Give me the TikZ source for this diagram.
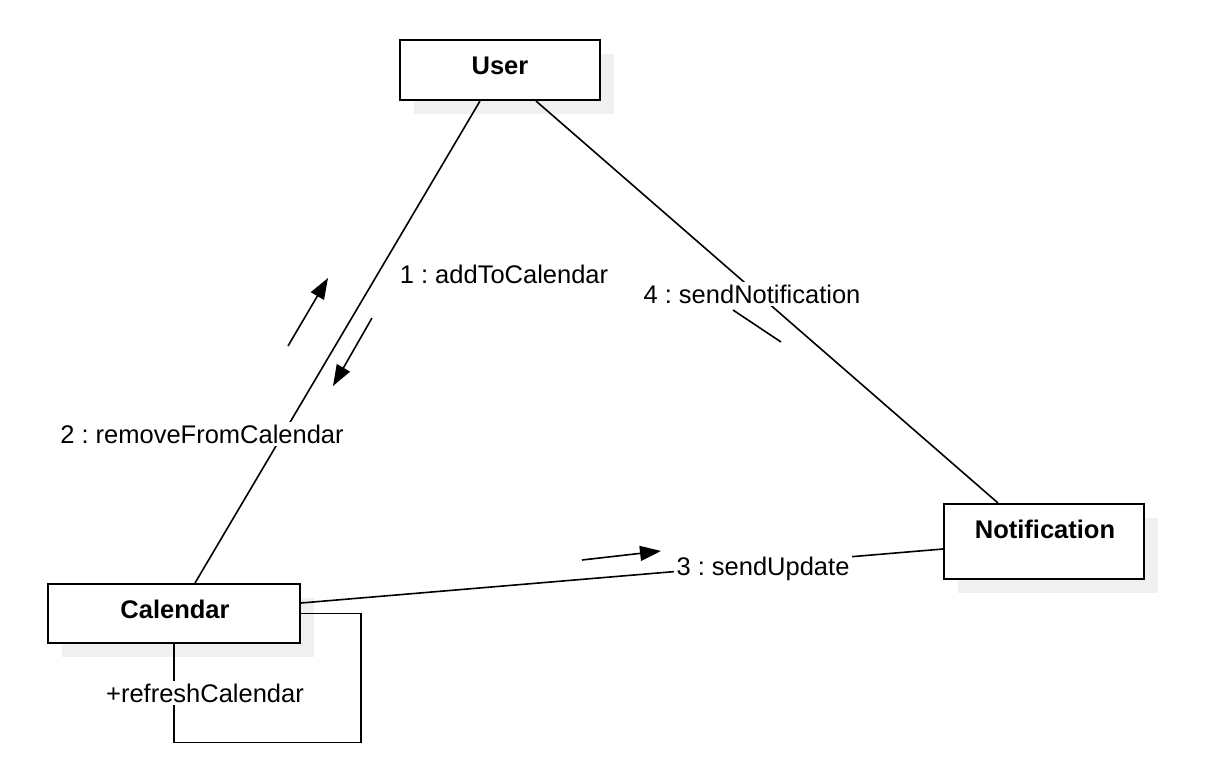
\documentclass[tikz,border=0pt]{standalone}
\usepackage{fontspec}
\setmainfont{Liberation Sans}
\usetikzlibrary{arrows.meta}
\definecolor{shadowgray}{HTML}{F0F0F0}
\frenchspacing
\begin{document}
\begin{tikzpicture}[x=1pt,y=-1pt,
  font=\fontsize{25.5}{30}\selectfont,
  objbox/.style={draw=black, line width=2pt, fill=white, inner sep=0pt},
  shadowbox/.style={fill=shadowgray, draw=none, inner sep=0pt},
  objname/.style={font=\fontsize{25.5}{30}\selectfont\bfseries, inner sep=0pt},
  conn/.style={line width=1.6pt},
  msg/.style={line width=1.6pt, -{Triangle[length=21pt,width=15pt]}},
  msglabel/.style={fill=white, inner sep=3pt}]
\useasboundingbox (0,0) rectangle (1226,776);
% shadows
\node[shadowbox, minimum width=200pt, minimum height=60pt] (usersh) at (514,84) {};
\node[shadowbox, minimum width=252pt, minimum height=59pt] (calsh) at (188,627.5) {};
\node[shadowbox, minimum width=200pt, minimum height=75pt] (notifsh) at (1058,555.5) {};
% objects
\node[objbox, minimum width=200pt, minimum height=60pt] (user) at (500,70) {};
\node[objbox, minimum width=252pt, minimum height=59pt] (cal) at (174,613.5) {};
\node[objbox, minimum width=200pt, minimum height=75pt] (notif) at (1044,541.5) {};
\node[objname] (usertxt) at (500,66) {User};
\node[objname] (caltxt) at (175,609) {Calendar};
\node[objname] (notiftxt) at (1045,529) {Notification};
% connectors
\draw[conn] ([xshift=-20pt]user.south) -- ([xshift=21pt]cal.north);
\draw[conn] ([xshift=36pt]user.south) -- ([xshift=-46pt]notif.north);
\draw[conn] ([yshift=10.5pt]cal.east) -- ([yshift=-7.5pt]notif.west);
\draw[conn] (cal.east) -- ++(60,0) coordinate (loopA) -- ++(0,129) coordinate (loopB) -| (cal.south);
% message arrows
\coordinate (m1s) at (372,318); \coordinate (m1e) at (333,386);
\coordinate (m2s) at (288,346); \coordinate (m2e) at (328,278);
\coordinate (m3s) at (582,560); \coordinate (m3e) at (661,551);
\coordinate (m4s) at (733,310); \coordinate (m4e) at (781,342);
\draw[msg] (m1s) -- (m1e);
\draw[msg] (m2s) -- (m2e);
\draw[msg] (m3s) -- (m3e);
\draw[conn] (m4s) -- (m4e);
% labels
\node[msglabel] (l1) at (504,274) {1 : addToCalendar};
\node[msglabel] (l2) at (202,434) {2 : removeFromCalendar};
\node[msglabel] (l3) at (763,569) {3 : sendUpdate};
\node[msglabel] (l4) at (752,294) {4 : sendNotification};
\node[msglabel] (l5) at (205,693) {+refreshCalendar};
\end{tikzpicture}
\end{document}
